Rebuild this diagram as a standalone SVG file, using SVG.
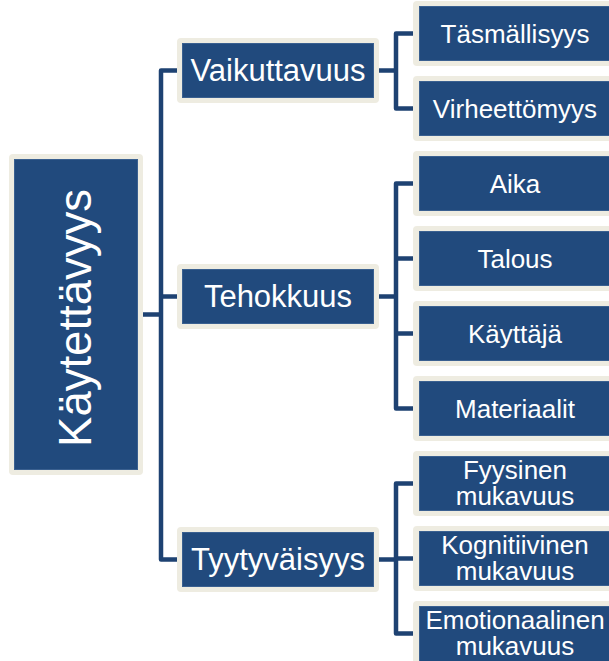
<svg xmlns="http://www.w3.org/2000/svg" width="609" height="661" viewBox="0 0 609 661">
  <style>
    .frame { fill: #EEECE1; }
    .box { fill: #214A7D; stroke: #3A6090; stroke-width: 1; }
    .txt { font-family: "Liberation Sans", Arial, sans-serif; fill: #FFFFFF; text-anchor: middle; }
    .p { font-size: 31px; }
    .c { font-size: 26px; }
    .conn { fill: none; stroke: #1E4272; stroke-width: 4.5; stroke-linejoin: round; }
  </style>
  <rect width="609" height="661" fill="#FFFFFF"/>
  <g id="connectors">
    <path class="conn" d="M143,314.5 H161"/>
    <path class="conn" d="M177,70.5 H161 V559.5 H177"/>
    <path class="conn" d="M161,296.5 H177"/>
    <path class="conn" d="M379,70.5 H396"/>
    <path class="conn" d="M413,33.5 H396 V108.5 H413"/>
    <path class="conn" d="M379,296.5 H396"/>
    <path class="conn" d="M413,183.5 H396 V408.5 H413"/>
    <path class="conn" d="M396,258.5 H413 M396,333.5 H413"/>
    <path class="conn" d="M379,559.5 H396"/>
    <path class="conn" d="M413,483.5 H396 V633.5 H413"/>
    <path class="conn" d="M396,558.5 H413"/>
  </g>
  <g id="root">
    <rect class="frame" x="9" y="154" width="134" height="321" rx="4"/>
    <rect class="box" x="14.5" y="159.5" width="123" height="310"/>
    <text class="txt" font-size="45.5" transform="translate(91,318) rotate(-90)">Käytettävyys</text>
  </g>
  <g id="vaikuttavuus">
    <rect class="frame" x="177" y="38" width="202" height="65" rx="4"/>
    <rect class="box" x="182.5" y="43.5" width="191" height="54"/>
    <text class="txt p" x="278" y="81">Vaikuttavuus</text>
  </g>
  <g id="tehokkuus">
    <rect class="frame" x="177" y="264" width="202" height="65" rx="4"/>
    <rect class="box" x="182.5" y="269.5" width="191" height="54"/>
    <text class="txt p" x="278" y="306.5">Tehokkuus</text>
  </g>
  <g id="tyytyvaisyys">
    <rect class="frame" x="177" y="527" width="202" height="65" rx="4"/>
    <rect class="box" x="182.5" y="532.5" width="191" height="54"/>
    <text class="txt p" x="278" y="569.5">Tyytyväisyys</text>
  </g>
  <g id="tasmallisyys">
    <rect class="frame" x="413" y="1" width="209" height="65" rx="4"/>
    <rect class="box" x="419.5" y="6.5" width="197" height="54"/>
    <text class="txt c" x="515" y="42.5">Täsmällisyys</text>
  </g>
  <g id="virheettomyys">
    <rect class="frame" x="413" y="76" width="209" height="65" rx="4"/>
    <rect class="box" x="419.5" y="81.5" width="197" height="54"/>
    <text class="txt c" x="515" y="117.5">Virheettömyys</text>
  </g>
  <g id="aika">
    <rect class="frame" x="413" y="151" width="209" height="65" rx="4"/>
    <rect class="box" x="419.5" y="156.5" width="197" height="54"/>
    <text class="txt c" x="515" y="192.5">Aika</text>
  </g>
  <g id="talous">
    <rect class="frame" x="413" y="226" width="209" height="65" rx="4"/>
    <rect class="box" x="419.5" y="231.5" width="197" height="54"/>
    <text class="txt c" x="515" y="267.5">Talous</text>
  </g>
  <g id="kayttaja">
    <rect class="frame" x="413" y="301" width="209" height="65" rx="4"/>
    <rect class="box" x="419.5" y="306.5" width="197" height="54"/>
    <text class="txt c" x="515" y="342.5">Käyttäjä</text>
  </g>
  <g id="materiaalit">
    <rect class="frame" x="413" y="376" width="209" height="65" rx="4"/>
    <rect class="box" x="419.5" y="381.5" width="197" height="54"/>
    <text class="txt c" x="515" y="417.5">Materiaalit</text>
  </g>
  <g id="fyysinen">
    <rect class="frame" x="413" y="451" width="209" height="65" rx="4"/>
    <rect class="box" x="419.5" y="456.5" width="197" height="54"/>
    <text class="txt c" x="515" y="478.5">Fyysinen</text>
    <text class="txt c" x="515" y="505">mukavuus</text>
  </g>
  <g id="kognitiivinen">
    <rect class="frame" x="413" y="526" width="209" height="65" rx="4"/>
    <rect class="box" x="419.5" y="531.5" width="197" height="54"/>
    <text class="txt c" x="515" y="554">Kognitiivinen</text>
    <text class="txt c" x="515" y="580">mukavuus</text>
  </g>
  <g id="emotionaalinen">
    <rect class="frame" x="413" y="601" width="209" height="65" rx="4"/>
    <rect class="box" x="419.5" y="606.5" width="197" height="60"/>
    <text class="txt c" x="515" y="628.5">Emotionaalinen</text>
    <text class="txt c" x="515" y="655">mukavuus</text>
  </g>
</svg>
